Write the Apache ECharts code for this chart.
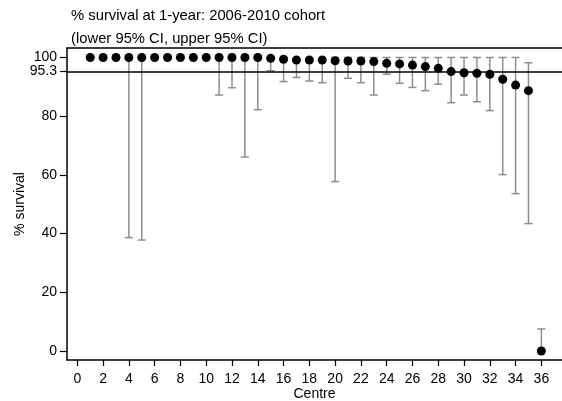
<!DOCTYPE html>
<html>
<head>
<meta charset="utf-8">
<script src="https://cdn.jsdelivr.net/npm/echarts@6/dist/echarts.min.js"></script>
<style>
  html, body { margin: 0; padding: 0; background: #fff; }
  #chart { width: 562px; height: 401px; }
</style>
</head>
<body>
<div id="chart"></div>
<script>
// One-year survival by centre, 2006-2010 cohort, with 95% confidence limits
var centres = [1, 2, 3, 4, 5, 6, 7, 8, 9, 10, 11, 12, 13, 14, 15, 16, 17, 18,
               19, 20, 21, 22, 23, 24, 25, 26, 27, 28, 29, 30, 31, 32, 33, 34, 35, 36];
var survival = [100, 100, 100, 100, 100, 100, 100, 100, 100, 100, 100, 100, 100, 100,
                99.7, 99.4, 99.1, 99.1, 99.1, 98.9, 98.8, 98.8, 98.6, 98.0, 97.8, 97.4,
                96.9, 96.3, 95.2, 94.8, 94.6, 94.3, 92.6, 90.6, 88.7, 0];
var lowerCI = [100, 100, 100, 38.6, 37.8, 100, 100, 100, 100, 100, 87.2, 89.7, 66.1, 82.2,
               95.5, 91.8, 93.2, 92.0, 91.4, 57.7, 92.9, 91.4, 87.2, 94.3, 91.2, 89.8,
               88.7, 90.9, 84.6, 87.2, 84.9, 81.9, 60.1, 53.6, 43.4, 0];
var upperCI = [100, 100, 100, 100, 100, 100, 100, 100, 100, 100, 100, 100, 100, 100,
               100, 100, 100, 100, 100, 100, 100, 100, 100, 100, 100, 100,
               100, 100, 100, 100, 100, 100, 100, 100, 98.2, 7.5];
var overallSurvival = 95.3;
var xTicks = [0, 2, 4, 6, 8, 10, 12, 14, 16, 18, 20, 22, 24, 26, 28, 30, 32, 34, 36];
var yTicks = [0, 20, 40, 60, 80, 100];
var refTicks = [overallSurvival];

var pointData = centres.map(function (c, i) { return [c, survival[i]]; });
var ciData = centres.map(function (c, i) { return [c, lowerCI[i], upperCI[i]]; });

var font = '"Liberation Sans", Arial, Helvetica, sans-serif';
var Y_MIN = -3.07, Y_MAX = 103.23;
var chart = echarts.init(document.getElementById('chart'), null, { renderer: 'canvas' });

function leftAxis(ticks, withName) {
  return {
    type: 'value',
    min: Y_MIN,
    max: Y_MAX,
    position: 'left',
    name: withName ? '% survival' : '',
    nameLocation: 'middle',
    nameGap: 40,
    nameMoveOverlap: false,
    nameTextStyle: { fontFamily: font, fontSize: 14, color: '#000' },
    axisLine: { show: withName, onZero: false, lineStyle: { color: '#000', width: 1.5 } },
    axisTick: { show: true, length: 7, customValues: ticks, lineStyle: { color: '#000', width: 1.2 } },
    axisLabel: { customValues: ticks, margin: 10, hideOverlap: false,
                 fontFamily: font, fontSize: 14, color: '#000' },
    splitLine: { show: false }
  };
}

chart.setOption({
  animation: false,
  backgroundColor: '#ffffff',
  title: {
    text: '% survival at 1-year: 2006-2010 cohort\n(lower 95% CI, upper 95% CI)',
    left: 71,
    top: 4,
    padding: 0,
    textStyle: { fontFamily: font, fontSize: 14.8, fontWeight: 'normal', color: '#000', lineHeight: 23 }
  },
  grid: { left: 67, right: 0, top: 48, height: 312, containLabel: false, outerBoundsMode: 'none' },
  xAxis: [{
    type: 'value',
    min: -0.8,
    max: 37.6,
    position: 'bottom',
    name: 'Centre',
    nameLocation: 'middle',
    nameGap: 27,
    nameMoveOverlap: false,
    nameTextStyle: { fontFamily: font, fontSize: 14, color: '#000' },
    axisLine: { show: true, onZero: false, lineStyle: { color: '#000', width: 1.5 } },
    axisTick: { show: true, length: 6, customValues: xTicks, lineStyle: { color: '#000', width: 1.2 } },
    axisLabel: { customValues: xTicks, margin: 12, fontFamily: font, fontSize: 14, color: '#000' },
    splitLine: { show: false }
  }, {
    type: 'value',
    min: -0.8,
    max: 37.6,
    position: 'top',
    axisLine: { show: true, onZero: false, lineStyle: { color: '#000', width: 1.5 } },
    axisTick: { show: false },
    axisLabel: { show: false },
    splitLine: { show: false }
  }],
  yAxis: [leftAxis(yTicks, true), leftAxis(refTicks, false)],
  series: [{
    name: 'CI',
    type: 'custom',
    xAxisIndex: 0,
    yAxisIndex: 0,
    z: 2,
    data: ciData,
    renderItem: function (params, api) {
      var x = api.value(0);
      var lo = api.coord([x, api.value(1)]);
      var hi = api.coord([x, api.value(2)]);
      var half = 4;
      var style = { stroke: '#8e8e8e', lineWidth: 1.5 };
      return {
        type: 'group',
        children: [
          { type: 'line', shape: { x1: lo[0], y1: lo[1], x2: hi[0], y2: hi[1] }, style: style },
          { type: 'line', shape: { x1: lo[0] - half, y1: lo[1], x2: lo[0] + half, y2: lo[1] }, style: style },
          { type: 'line', shape: { x1: hi[0] - half, y1: hi[1], x2: hi[0] + half, y2: hi[1] }, style: style }
        ]
      };
    }
  }, {
    name: 'Survival',
    type: 'scatter',
    xAxisIndex: 0,
    yAxisIndex: 0,
    z: 5,
    symbol: 'circle',
    symbolSize: 9,
    itemStyle: { color: '#000', opacity: 1 },
    data: pointData,
    markLine: {
      silent: true,
      symbol: 'none',
      label: { show: false },
      lineStyle: { color: '#000', width: 1.5, type: 'solid', opacity: 1 },
      data: [{ yAxis: overallSurvival }]
    }
  }]
});
</script>
</body>
</html>
